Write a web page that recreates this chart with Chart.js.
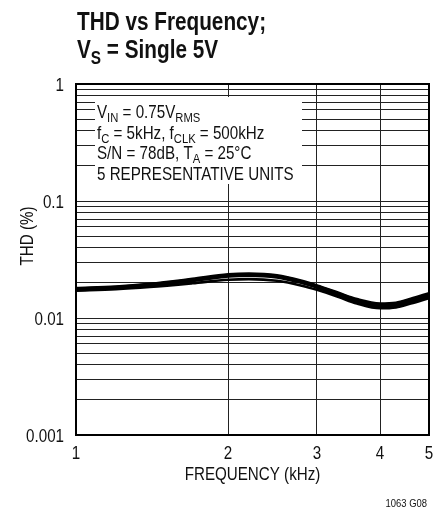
<!DOCTYPE html>
<html>
<head>
<meta charset="utf-8">
<script src="https://cdn.jsdelivr.net/npm/chart.js@4.4.1/dist/chart.umd.min.js"></script>
<style>
  html, body { margin: 0; padding: 0; background: #fff; }
  #wrap { width: 435px; height: 512px; position: relative; }
</style>
</head>
<body>
<div id="wrap"><canvas id="thdChart"></canvas></div>
<script>
// frequency points (kHz) and THD (%) for the 5 representative units
const freqs = [1, 1.2, 1.4, 1.7, 2, 2.2, 2.5, 2.8, 3, 3.3, 3.6, 4, 4.3, 4.6, 5];
const unit1 = [0.0180, 0.0186, 0.0196, 0.0216, 0.0236, 0.0240, 0.0232, 0.0208, 0.0190, 0.0165, 0.0145, 0.0133, 0.0135, 0.0146, 0.0163];
const unit2 = [0.0178, 0.0184, 0.0194, 0.0213, 0.0232, 0.0236, 0.0228, 0.0205, 0.0188, 0.0163, 0.0143, 0.0131, 0.0133, 0.0144, 0.0160];
const unit3 = [0.0176, 0.0182, 0.0192, 0.0210, 0.0229, 0.0233, 0.0225, 0.0202, 0.0185, 0.0160, 0.0140, 0.0128, 0.0130, 0.0141, 0.0157];
const unit4 = [0.0174, 0.0180, 0.0189, 0.0207, 0.0226, 0.0230, 0.0222, 0.0199, 0.0182, 0.0157, 0.0137, 0.0125, 0.0127, 0.0138, 0.0153];
const unit5 = [0.0171, 0.0176, 0.0184, 0.0198, 0.0212, 0.0215, 0.0208, 0.0189, 0.0174, 0.0152, 0.0133, 0.0121, 0.0123, 0.0133, 0.0148];

const xTicks = [1, 2, 3, 4, 5];
const yGrid = [0.001, 0.002, 0.003, 0.004, 0.005, 0.006, 0.007, 0.008, 0.009,
               0.01, 0.02, 0.03, 0.04, 0.05, 0.06, 0.07, 0.08, 0.09,
               0.1, 0.2, 0.3, 0.4, 0.5, 0.6, 0.7, 0.8, 0.9, 1];
const yTickVals = [0.001, 0.01, 0.1, 1];
const yTickText = ['0.001', '0.01', '0.1', '1'];

const FONT = '"Liberation Sans", Arial, sans-serif';
const NARROW = 0.82; // squeeze to look like a narrow Helvetica

// draws text pieces (some as subscripts), squeezed horizontally
function drawRich(ctx, x, y, parts, size, weight, align) {
    ctx.save();
    ctx.translate(x, y);
    ctx.scale(NARROW, 1);
    let total = 0;
    parts.forEach(p => {
        ctx.font = `${weight} ${p.sub ? size * 0.74 : size}px ${FONT}`;
        total += ctx.measureText(p.t).width;
    });
    let cx = align === 'center' ? -total / 2 : align === 'right' ? -total : 0;
    ctx.textAlign = 'left';
    parts.forEach(p => {
        ctx.font = `${weight} ${p.sub ? size * 0.74 : size}px ${FONT}`;
        ctx.fillText(p.t, cx, p.sub ? size * 0.24 : 0);
        cx += ctx.measureText(p.t).width;
    });
    ctx.restore();
}

const textPlugin = {
    id: 'textPlugin',
    beforeDatasetsDraw(chart) {
        const ctx = chart.ctx;
        ctx.save();
        // white box behind the conditions note
        ctx.fillStyle = '#fff';
        ctx.fillRect(95, 97, 207, 87);
        ctx.fillStyle = '#111';
        ctx.textBaseline = 'alphabetic';
        const sz = 18.5;
        drawRich(ctx, 97, 118, [{t: 'V'}, {t: 'IN', sub: true}, {t: ' = 0.75V'}, {t: 'RMS', sub: true}], sz, 'normal');
        drawRich(ctx, 97, 138.5, [{t: 'f'}, {t: 'C', sub: true}, {t: ' = 5kHz, f'}, {t: 'CLK', sub: true}, {t: ' = 500kHz'}], sz, 'normal');
        drawRich(ctx, 97, 159, [{t: 'S/N = 78dB, T'}, {t: 'A', sub: true}, {t: ' = 25°C'}], sz, 'normal');
        drawRich(ctx, 97, 179.5, [{t: '5 REPRESENTATIVE UNITS'}], sz, 'normal');
        ctx.restore();
    },
    afterDraw(chart) {
        const ctx = chart.ctx;
        const a = chart.chartArea;
        const xs = chart.scales.x;
        const ys = chart.scales.y;
        ctx.save();
        // frame round the plot
        ctx.strokeStyle = '#000';
        ctx.lineWidth = 2;
        ctx.strokeRect(a.left, a.top, a.right - a.left, a.bottom - a.top);

        ctx.fillStyle = '#111';
        ctx.textBaseline = 'alphabetic';
        drawRich(ctx, 77, 30, [{t: 'THD vs Frequency;'}], 25.3, 'bold');
        drawRich(ctx, 77, 58, [{t: 'V'}, {t: 'S', sub: true}, {t: ' = Single 5V'}], 25.3, 'bold');

        // tick labels
        xTicks.forEach(v => {
            drawRich(ctx, xs.getPixelForValue(v), 459, [{t: String(v)}], 18.5, 'normal', 'center');
        });
        yTickVals.forEach((v, i) => {
            drawRich(ctx, 64, ys.getPixelForValue(v) + 6.5, [{t: yTickText[i]}], 18.5, 'normal', 'right');
        });

        drawRich(ctx, (a.left + a.right) / 2, 480, [{t: 'FREQUENCY (kHz)'}], 18.5, 'normal', 'center');

        ctx.save();
        ctx.translate(33, 236);
        ctx.rotate(-Math.PI / 2);
        drawRich(ctx, 0, 0, [{t: 'THD (%)'}], 18.5, 'normal', 'center');
        ctx.restore();

        drawRich(ctx, 427, 507, [{t: '1063 G08'}], 11.5, 'normal', 'right');
        ctx.restore();
    }
};

function unitSet(values) {
    return {
        data: freqs.map((f, i) => ({ x: f, y: values[i] })),
        borderColor: '#000',
        borderWidth: 2.6,
        pointRadius: 0,
        cubicInterpolationMode: 'monotone',
        fill: false
    };
}

const ctx = document.getElementById('thdChart').getContext('2d');
new Chart(ctx, {
    type: 'line',
    data: {
        datasets: [unitSet(unit1), unitSet(unit2), unitSet(unit3), unitSet(unit4), unitSet(unit5)]
    },
    options: {
        responsive: true,
        maintainAspectRatio: false,
        animation: false,
        events: [],
        layout: { padding: { left: 0, right: 6, top: 84, bottom: 0 } },
        plugins: {
            legend: { display: false },
            tooltip: { enabled: false }
        },
        scales: {
            x: {
                type: 'logarithmic',
                min: 1,
                max: 5,
                afterBuildTicks: scale => { scale.ticks = xTicks.map(v => ({ value: v })); },
                afterFit: scale => { scale.height = 77; },
                grid: { color: '#222', lineWidth: 1, drawTicks: false },
                border: { display: true, color: '#000', width: 2 },
                ticks: { display: false }
            },
            y: {
                type: 'logarithmic',
                min: 0.001,
                max: 1,
                afterBuildTicks: scale => { scale.ticks = yGrid.map(v => ({ value: v })); },
                afterFit: scale => { scale.width = 76; },
                grid: { color: '#222', lineWidth: 1, drawTicks: false },
                border: { display: true, color: '#000', width: 2 },
                ticks: { display: false }
            }
        }
    },
    plugins: [textPlugin]
});
</script>
</body>
</html>
